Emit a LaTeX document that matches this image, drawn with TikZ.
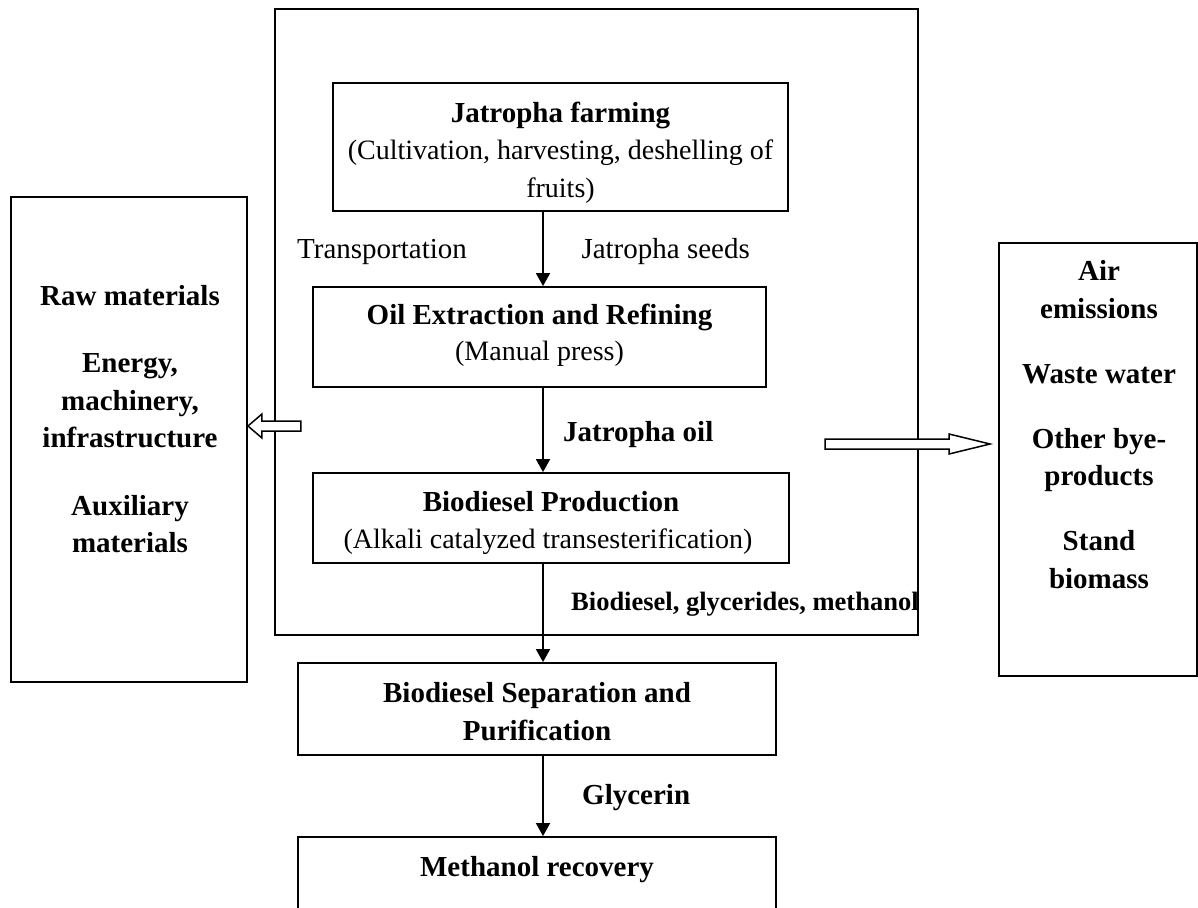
\documentclass[tikz,border=0pt]{standalone}
\usepackage{fontspec}
\setmainfont{Liberation Serif}
\usetikzlibrary{arrows.meta}
\begin{document}
\begin{tikzpicture}[x=1pt,y=-1pt,
  box/.style={draw, line width=1.9pt, inner sep=0pt},
  outerbox/.style={draw, line width=1.6pt, inner sep=0pt},
  flow/.style={line width=1.9pt, -{Triangle[length=13pt,width=14pt]}},
  rlbl/.style={font=\fontsize{28}{34}\selectfont, inner sep=0pt, anchor=base},
  tlbl/.style={font=\fontsize{29}{35}\selectfont, inner sep=0pt},
  blbl/.style={font=\fontsize{29}{35}\selectfont\bfseries, inner sep=0pt, anchor=base},
  slbl/.style={font=\fontsize{26.5}{32}\selectfont\bfseries, inner sep=0pt, anchor=base west},
  hollow/.style={draw, line width=1.5pt, fill=white, line join=miter}]
\clip (0,0) rectangle (1198,907);
\fill[white] (0,0) rectangle (1198,907);

% boxes
\node[outerbox, minimum width=643pt, minimum height=626pt] (outer) at (596.5,322) {};
\node[box, minimum width=455pt, minimum height=128pt] (farm) at (560.5,147) {};
\node[box, minimum width=453pt, minimum height=100pt] (oil) at (539.5,337) {};
\node[box, minimum width=476pt, minimum height=90pt] (bio) at (551,518) {};
\node[box, minimum width=478pt, minimum height=92pt] (sep) at (537,709) {};
\node[box, minimum width=478pt, minimum height=93pt] (meth) at (537,883.5) {};
\node[box, minimum width=236pt, minimum height=485pt] (inputs) at (129,439.5) {};
\node[box, minimum width=198pt, minimum height=433pt] (outputs) at (1098,459.5) {};

% main flow
\coordinate (ax) at (543,0);
\draw[flow] (farm.south -| ax) -- (oil.north -| ax);
\draw[flow] (oil.south -| ax) -- (bio.north -| ax);
\draw[flow] (bio.south -| ax) -- (sep.north -| ax);
\draw[flow] (sep.south -| ax) -- (meth.north -| ax);

% hollow arrows
\coordinate (ltip) at (inputs.east |- 0,426);
\draw[hollow, shift={(ltip)}] (0,0) -- (14,-12) -- (14,-5) -- (53,-5) -- (53,5) -- (14,5) -- (14,12) -- cycle;
\coordinate (rtip) at (990,444);
\draw[hollow, shift={(rtip)}] (0,0) -- (-41,-10) -- (-41,-5) -- (-165,-5) -- (-165,5) -- (-41,5) -- (-41,10) -- cycle;

% texts in boxes
\node[blbl] (t1) at (560.5,122) {Jatropha farming};
\node[rlbl] (t2) at (560.5,159.5) {(Cultivation, harvesting, deshelling of};
\node[rlbl] (t3) at (560.5,197) {fruits)};
\node[blbl] (t4) at (539.5,324) {Oil Extraction and Refining};
\node[rlbl] (t5) at (539.5,360) {(Manual press)};
\node[blbl] (t6) at (551,511) {Biodiesel Production};
\node[rlbl] (t7) at (548,548) {(Alkali catalyzed transesterification)};
\node[blbl] (t8) at (537,702) {Biodiesel Separation and};
\node[blbl] (t9) at (537,740) {Purification};
\node[blbl] (t10) at (537,876) {Methanol recovery};

% flow labels
\node[tlbl, anchor=base west] (l1) at (297,258) {Transportation};
\node[tlbl, anchor=base east] (l2) at (750,258) {Jatropha seeds};
\node[blbl, anchor=base west] (l3) at (563,441) {Jatropha oil};
\node[slbl] (l4) at (571,610) {Biodiesel, glycerides, methanol};
\node[blbl, anchor=base west] (l5) at (582,804) {Glycerin};

% inputs
\node[blbl] (i1) at (130,305) {Raw materials};
\node[blbl] (i2) at (130,372) {Energy,};
\node[blbl] (i3) at (130,410) {machinery,};
\node[blbl] (i4) at (130,447) {infrastructure};
\node[blbl] (i5) at (130,515) {Auxiliary};
\node[blbl] (i6) at (130,552) {materials};

% outputs
\node[blbl] (o1) at (1099,280) {Air};
\node[blbl] (o2) at (1099,318) {emissions};
\node[blbl] (o3) at (1099,383) {Waste water};
\node[blbl] (o4) at (1099,448) {Other bye-};
\node[blbl] (o5) at (1099,485) {products};
\node[blbl] (o6) at (1099,550) {Stand};
\node[blbl] (o7) at (1099,588) {biomass};
\end{tikzpicture}
\end{document}
